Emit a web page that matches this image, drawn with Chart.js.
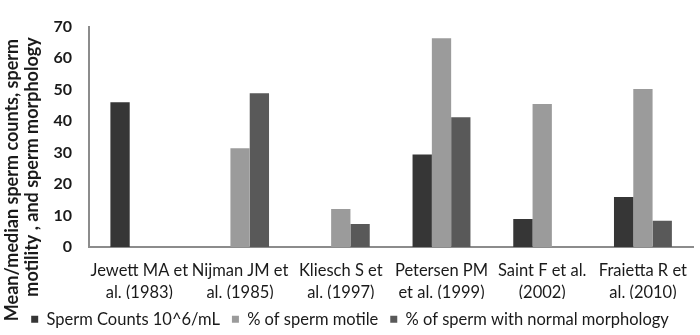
<!DOCTYPE html>
<html>
<head>
<meta charset="utf-8">
<script src="https://cdn.jsdelivr.net/npm/chart.js@4/dist/chart.umd.min.js"></script>
<style>
html,body{margin:0;padding:0;background:#fff;}
#wrap{width:700px;height:335px;position:relative;}
</style>
</head>
<body>
<div id="wrap"><canvas id="c" width="700" height="335"></canvas></div>
<script>
const categories = [
  ["Jewett MA et", "al. (1983)"],
  ["Nijman JM et", "al. (1985)"],
  ["Kliesch S et", "al. (1997)"],
  ["Petersen PM", "et al. (1999)"],
  ["Saint F et al.", "(2002)"],
  ["Fraietta R et", "al. (2010)"]
];
const spermCounts = [46, null, null, 29.4, 8.9, 15.9];
const spermMotile = [null, 31.4, 12.1, 66.3, 45.4, 50.2];
const spermMorphology = [null, 48.8, 7.3, 41.2, null, 8.3];
const seriesNames = ["Sperm Counts 10^6/mL", "% of sperm motile", "% of sperm with normal morphology"];
const yTitleLines = ["Mean/median sperm counts, sperm", "motility , and sperm morphology"];
const yTicks = { min: 0, max: 70, step: 10 };

const FONT = "Lato, 'Open Sans', sans-serif";

const yTitlePlugin = {
  id: 'yTitle',
  afterInit(chart) {
    const lg = chart.legend;
    if (lg) {
      const origFit = lg.fit;
      lg.fit = function () { origFit.call(this); this.height = 36; };
    }
  },
  afterDraw(chart) {
    const ctx = chart.ctx;
    ctx.save();
    ctx.fillStyle = '#1a1a1a';
    ctx.font = "bold 18px " + FONT;
    ctx.textAlign = 'center';
    ctx.textBaseline = 'middle';
    const centers = [[12, 180], [32, 167]];
    yTitleLines.forEach((line, i) => {
      ctx.save();
      ctx.translate(centers[i][0], centers[i][1]);
      ctx.rotate(-Math.PI / 2);
      ctx.fillText(line, 0, 0);
      ctx.restore();
    });
    ctx.restore();
  }
};

new Chart(document.getElementById('c'), {
  type: 'bar',
  data: {
    labels: categories,
    datasets: [
      { label: seriesNames[0], data: spermCounts, backgroundColor: '#363636' },
      { label: seriesNames[1], data: spermMotile, backgroundColor: '#9b9b9b' },
      { label: seriesNames[2], data: spermMorphology, backgroundColor: '#595959' }
    ]
  },
  options: {
    responsive: false,
    animation: false,
    devicePixelRatio: 1,
    layout: { padding: { left: 0, right: 0, top: 7, bottom: 0 } },
    datasets: { bar: { barPercentage: 1, categoryPercentage: 0.575 } },
    plugins: {
      legend: {
        position: 'bottom',
        labels: {
          boxWidth: 7, boxHeight: 7, padding: 12,
          color: '#1a1a1a',
          font: { family: FONT, size: 16.5 }
        }
      },
      tooltip: { enabled: false }
    },
    scales: {
      x: {
        grid: { display: false, drawTicks: false },
        border: { display: true, color: '#8c8c8c', width: 2 },
        ticks: {
          color: '#1a1a1a', padding: 13, maxRotation: 0, autoSkip: false,
          font: { family: FONT, size: 16.5, lineHeight: 1.3 }
        },
        afterFit(scale) { scale.height = 52; }
      },
      y: {
        min: yTicks.min, max: yTicks.max,
        grid: { display: false, drawTicks: false },
        border: { display: true, color: '#8c8c8c', width: 2 },
        ticks: {
          stepSize: yTicks.step, color: '#1a1a1a', padding: 17,
          font: { family: FONT, size: 16, weight: 'bold' }
        },
        afterFit(scale) { scale.width = 89; }
      }
    }
  },
  plugins: [yTitlePlugin]
});
</script>
</body>
</html>
